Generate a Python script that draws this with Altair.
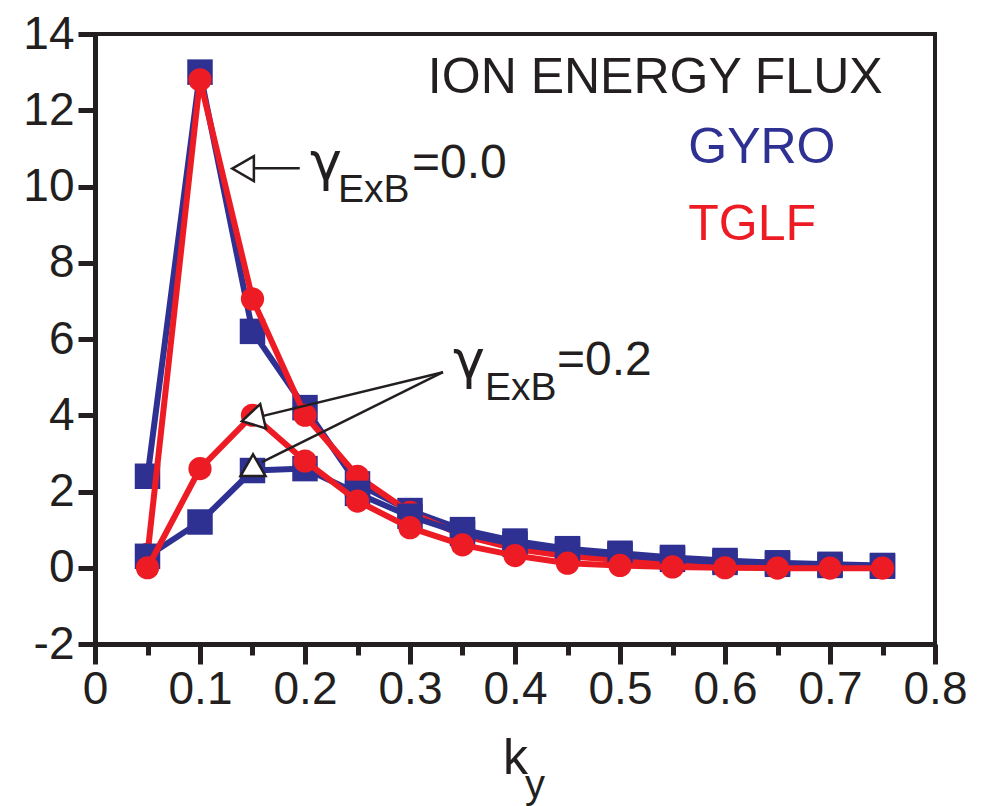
import altair as alt
import pandas as pd

# ---- data ----
ky = [0.05, 0.10, 0.15, 0.20, 0.25, 0.30, 0.35, 0.40, 0.45, 0.50, 0.55, 0.60, 0.65, 0.70, 0.75]
gyro_g00 = [2.4, 13.0, 6.2, 4.2, 2.2, 1.5, 1.0, 0.7, 0.5, 0.38, 0.27, 0.19, 0.13, 0.09, 0.06]
tglf_g00 = [0.35, 12.8, 7.05, 4.0, 2.4, 1.45, 0.85, 0.5, 0.3, 0.2, 0.1, 0.06, 0.03, 0.02, 0.01]
gyro_g02 = [0.3, 1.2, 2.55, 2.6, 1.95, 1.35, 0.9, 0.62, 0.45, 0.33, 0.22, 0.14, 0.09, 0.06, 0.04]
tglf_g02 = [0.0, 2.6, 4.0, 2.8, 1.75, 1.05, 0.6, 0.32, 0.12, 0.06, 0.02, 0.0, -0.01, -0.01, -0.01]

x_ticks = [round(i * 0.05, 2) for i in range(17)]
y_ticks = [-2, 0, 2, 4, 6, 8, 10, 12, 14]

# annotation texts: text, x, y (data units), font size, colour
txt_labels = ["ION ENERGY FLUX", "GYRO", "TGLF", "ExB", "=0.0", "ExB", "=0.2", "k", "y"]
txt_x = [0.317, 0.565, 0.565, 0.2314, 0.3019, 0.3714, 0.440, 0.3886, 0.4095]
txt_y = [12.45, 10.62, 8.60, 9.59, 10.22, 4.40, 5.05, -5.41, -6.04]
txt_size = [50, 50, 50, 39, 48, 39, 48, 50, 40]
txt_color = ["#231F20", "#2E3192", "#ED1C24", "#231F20", "#231F20",
             "#231F20", "#231F20", "#231F20", "#231F20"]

# greek gamma glyphs
gam_labels = ["γ", "γ"]
gam_x = [0.2048, 0.341]
gam_y = [10.17, 4.98]

# arrow shafts
arr_x = [0.195, 0.3314, 0.3314]
arr_x2 = [0.1524, 0.1552, 0.159]
arr_y = [10.48, 5.13, 5.13]
arr_y2 = [10.48, 3.95, 2.77]

# arrow heads
head_x = [0.141, 0.150, 0.1505]
head_y = [10.47, 3.91, 2.69]
head_shape = ["triangle-left", "triangle-left", "triangle-up"]
head_angle = [0, 347, 0]

BLUE = "#2E3192"
RED = "#ED1C24"
INK = "#231F20"

x_scale = alt.Scale(domain=[0, 0.8], nice=False, zero=False)
y_scale = alt.Scale(domain=[-2, 14], nice=False, zero=False)

major = "abs(round(datum.value*100) % 10) == 0"
x_axis = alt.Axis(
    values=x_ticks,
    labelExpr=f"{major} ? format(datum.value, '.1~f') : ''",
    tickSize={"condition": {"test": major, "value": 20}, "value": 11},
    labelPadding=3,
    title=None,
    grid=False,
    labelFlush=False,
    labelOverlap=False,
)
y_axis = alt.Axis(
    values=y_ticks,
    labelExpr="datum.value < 0 ? '-' + abs(datum.value) : '' + datum.value",
    tickSize=17, labelPadding=4, title=None, grid=False,
    labelFlush=False, labelOverlap=False,
)


def X(field):
    return alt.X(field, type="quantitative", scale=x_scale, axis=x_axis)


def Y(field):
    return alt.Y(field, type="quantitative", scale=y_scale, axis=y_axis)


def series(vals, color, shape):
    df = pd.DataFrame({"k": ky, "v": vals})
    base = alt.Chart(df)
    line = base.mark_line(color=color, strokeWidth=6).encode(x=X("k"), y=Y("v"))
    if shape == "square":
        pts = base.mark_point(shape="square", filled=True, color=color, size=650, opacity=1)
    else:
        pts = base.mark_circle(color=color, size=540, opacity=1)
    return line + pts.encode(x=X("k"), y=Y("v"))


layers = [
    series(gyro_g00, BLUE, "square"),
    series(tglf_g00, RED, "circle"),
    series(gyro_g02, BLUE, "square"),
    series(tglf_g02, RED, "circle"),
]

arrows = alt.Chart(pd.DataFrame({"k": arr_x, "k2": arr_x2, "v": arr_y, "v2": arr_y2})).mark_rule(
    color=INK, strokeWidth=2.5
).encode(x=X("k"), x2="k2", y=Y("v"), y2="v2")

heads = alt.Chart(pd.DataFrame({"k": head_x, "v": head_y, "s": head_shape, "a": head_angle})).mark_point(
    filled=True, fill="white", stroke=INK, strokeWidth=2.5, size=625, opacity=1
).encode(
    x=X("k"), y=Y("v"),
    shape=alt.Shape("s:N", scale=None),
    angle=alt.Angle("a:Q", scale=None),
)

texts = alt.Chart(pd.DataFrame({"k": txt_x, "v": txt_y, "t": txt_labels, "fs": txt_size, "c": txt_color})).mark_text(
    align="left", baseline="alphabetic", font="Liberation Sans"
).encode(
    x=X("k"), y=Y("v"), text="t:N",
    size=alt.Size("fs:Q", scale=None),
    color=alt.Color("c:N", scale=None),
)

gammas = alt.Chart(pd.DataFrame({"k": gam_x, "v": gam_y, "t": gam_labels})).mark_text(
    align="left", baseline="alphabetic", font="DejaVu Sans", fontSize=54, color=INK
).encode(x=X("k"), y=Y("v"), text="t:N")

chart = alt.layer(*layers, arrows, heads, texts, gammas).properties(
    width=840,
    height=610,
    autosize=alt.AutoSizeParams(type="none"),
    padding={"left": 95, "top": 34, "right": 49, "bottom": 162},
    background="white",
).configure_view(
    stroke=INK, strokeWidth=4
).configure_axis(
    domainColor=INK, domainWidth=5, tickColor=INK, tickWidth=5,
    labelFont="Liberation Sans", labelFontSize=46, labelColor=INK,
)

chart.save("out.html", embed_options={"renderer": "svg", "actions": False})
